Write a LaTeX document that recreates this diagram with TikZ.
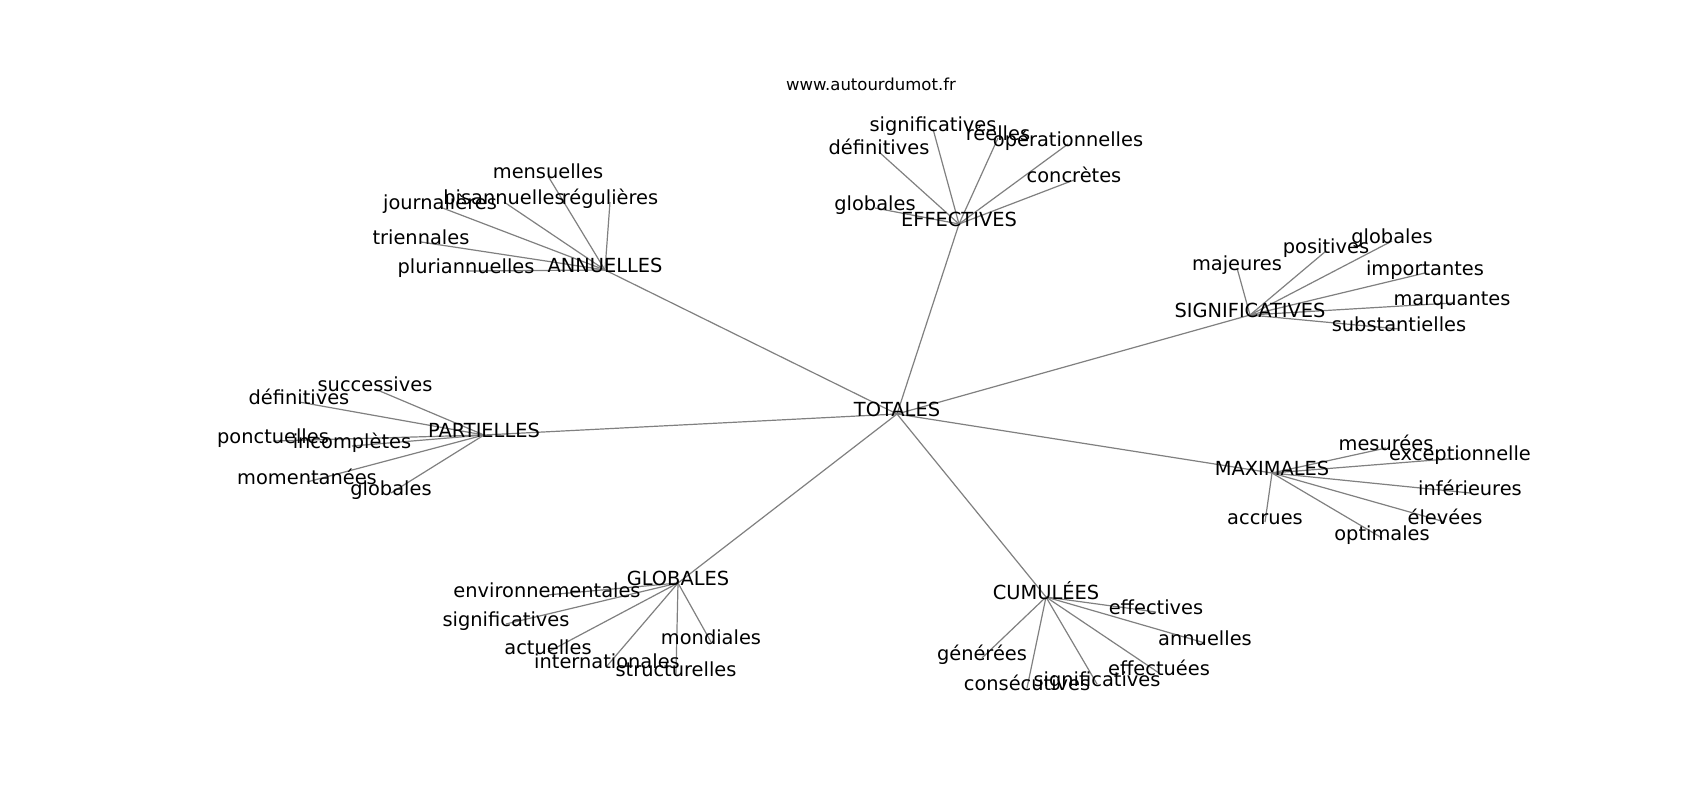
\documentclass[tikz,border=0pt]{standalone}
\usepackage{fontspec}
\setmainfont{DejaVu Sans}
\definecolor{edgecol}{RGB}{128,128,128}
\pgfdeclarelayer{bg}
\pgfsetlayers{bg,main}
\tikzset{
  lbl/.style={inner sep=0pt, text height=0.76em, text depth=0.24em, anchor=center, font=\fontsize{19.4}{23}\selectfont},
  ttl/.style={inner sep=0pt, anchor=center, font=\fontsize{16.5}{19}\selectfont},
  lnk/.style={draw=edgecol, line width=1.2pt}
}
\begin{document}
\begin{tikzpicture}[x=1pt,y=-1pt]
\useasboundingbox (0,0) rectangle (1700,800);
\node[ttl] (title) at (871,84) {www.autourdumot.fr};
% centre
\node[lbl] (t) at (897,414) {TOTALES};
% hubs
\node[lbl] (a) at (605,270) {ANNUELLES};
\node[lbl] (e) at (959,224) {EFFECTIVES};
\node[lbl] (s) at (1250,315) {SIGNIFICATIVES};
\node[lbl] (p) at (484,435) {PARTIELLES};
\node[lbl] (m) at (1272,473) {MAXIMALES};
\node[lbl] (g) at (678,583) {GLOBALES};
\node[lbl] (c) at (1046,597) {CUMULÉES};
% ANNUELLES leaves
\node[lbl] (a1) at (548,176) {mensuelles};
\node[lbl] (a2) at (440,207) {journalières};
\node[lbl] (a3) at (504,202) {bisannuelles};
\node[lbl] (a4) at (610,202) {régulières};
\node[lbl] (a5) at (421,242) {triennales};
\node[lbl] (a6) at (466,271) {pluriannuelles};
% EFFECTIVES leaves
\node[lbl] (e1) at (933,129) {significatives};
\node[lbl] (e2) at (879,152) {définitives};
\node[lbl] (e3) at (998,138) {réelles};
\node[lbl] (e4) at (1068,144) {opérationnelles};
\node[lbl] (e5) at (1074,180) {concrètes};
\node[lbl] (e6) at (875,208) {globales};
% SIGNIFICATIVES leaves
\node[lbl] (s1) at (1237,268) {majeures};
\node[lbl] (s2) at (1326,251) {positives};
\node[lbl] (s3) at (1392,241) {globales};
\node[lbl] (s4) at (1425,273) {importantes};
\node[lbl] (s5) at (1452,303) {marquantes};
\node[lbl] (s6) at (1399,329) {substantielles};
% MAXIMALES leaves
\node[lbl] (m1) at (1386,448) {mesurées};
\node[lbl] (m2) at (1460,458) {exceptionnelle};
\node[lbl] (m3) at (1470,493) {inférieures};
\node[lbl] (m4) at (1445,522) {élevées};
\node[lbl] (m5) at (1382,538) {optimales};
\node[lbl] (m6) at (1265,522) {accrues};
% PARTIELLES leaves
\node[lbl] (p1) at (375,389) {successives};
\node[lbl] (p2) at (299,402) {définitives};
\node[lbl] (p3) at (273,441) {ponctuelles};
\node[lbl] (p4) at (352,446) {incomplètes};
\node[lbl] (p5) at (307,482) {momentanées};
\node[lbl] (p6) at (391,493) {globales};
% GLOBALES leaves
\node[lbl] (g1) at (547,595) {environnementales};
\node[lbl] (g2) at (506,624) {significatives};
\node[lbl] (g3) at (548,652) {actuelles};
\node[lbl] (g4) at (607,666) {internationales};
\node[lbl] (g5) at (676,674) {structurelles};
\node[lbl] (g6) at (711,642) {mondiales};
% CUMULEES leaves
\node[lbl] (c1) at (1156,612) {effectives};
\node[lbl] (c2) at (1205,643) {annuelles};
\node[lbl] (c3) at (982,658) {générées};
\node[lbl] (c4) at (1159,673) {effectuées};
\node[lbl] (c5) at (1027,688) {consécutives};
\node[lbl] (c6) at (1097,684) {significatives};
\begin{pgfonlayer}{bg}
\fill[white] (0,0) rectangle (1700,800);
\foreach \h in {a,e,s,p,m,g,c}{\draw[lnk] (t.center) -- (\h.center);}
\foreach \h in {a,e,s,p,m,g,c}{
  \foreach \i in {1,...,6}{\draw[lnk] (\h.center) -- (\h\i.center);}
}
\end{pgfonlayer}
\end{tikzpicture}
\end{document}
